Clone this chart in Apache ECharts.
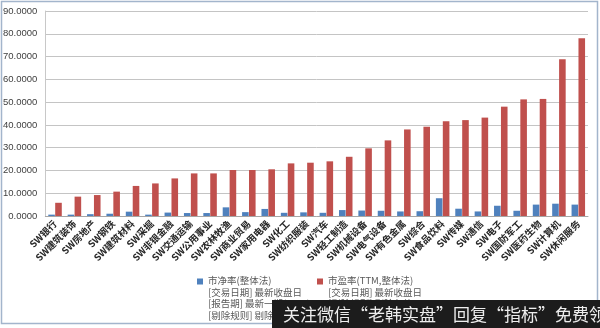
<!DOCTYPE html>
<html>
<head>
<meta charset="utf-8">
<script src="https://cdn.jsdelivr.net/npm/echarts@6/dist/echarts.min.js"></script>
<style>
html,body{margin:0;padding:0;background:#fff;}
#c{width:600px;height:328px;}
</style>
</head>
<body>
<div id="c"></div>
<script>
var categories = ["SW银行","SW建筑装饰","SW房地产","SW钢铁","SW建筑材料","SW采掘","SW非银金融","SW交通运输","SW公用事业","SW农林牧渔","SW商业贸易","SW家用电器","SW化工","SW纺织服装","SW汽车","SW轻工制造","SW机械设备","SW电气设备","SW有色金属","SW综合","SW食品饮料","SW传媒","SW通信","SW电子","SW国防军工","SW医药生物","SW计算机","SW休闲服务"];
var pbValues = [0.6,0.6,0.8,1.0,1.9,0.6,1.5,1.3,1.3,3.8,1.7,3.1,1.4,1.6,1.4,2.6,2.4,2.3,2.0,2.1,7.8,3.2,2.0,4.5,2.3,5.0,5.4,5.0];
var peValues = [5.8,8.5,9.2,10.7,13.2,14.3,16.5,18.7,18.7,20.2,20.2,20.5,23.1,23.4,24.0,26.0,29.7,33.2,38.0,39.2,41.6,42.1,43.2,48.0,51.2,51.4,68.8,78.0];
var seriesNames = ["市净率(整体法)","市盈率(TTM,整体法)"];
var legendNotes = [
  ["[交易日期] 最新收盘日","[报告期] 最新一期(MRQ)","[剔除规则] 剔除负值"],
  ["[交易日期] 最新收盘日","[剔除规则] 剔除负值"]
];
var yTicks = {min:0, max:90, interval:10};
var watermark = "关注微信“老韩实盘”回复“指标”免费领取";

var chart = echarts.init(document.getElementById('c'), null, {renderer:'canvas'});
var cjk = '"Noto Sans CJK SC", "DejaVu Sans", sans-serif';
function legendFmt(i){ return function(name){ return [name].concat(legendNotes[i]).join('\n'); }; }
var option = {
  animation:false,
  backgroundColor:'#ffffff',
  grid:{left:45,right:12,top:11,bottom:112,containLabel:false},
  xAxis:{
    type:'category',
    data:categories,
    axisLine:{show:true,lineStyle:{color:'#a6a6a6',width:1}},
    axisTick:{show:false},
    axisLabel:{interval:0,rotate:45,margin:6,fontSize:9.5,color:'#262626',fontFamily:cjk,fontWeight:'bold'}
  },
  yAxis:{
    type:'value',
    min:yTicks.min,max:yTicks.max,interval:yTicks.interval,
    axisLine:{show:true,lineStyle:{color:'#c8c8c8'}},
    axisTick:{show:false},
    axisLabel:{margin:8,fontSize:9.5,color:'#404040',fontFamily:'"Liberation Sans", Arial, sans-serif',
      formatter:function(v){return v.toFixed(4);}},
    splitLine:{show:true,lineStyle:{color:'#c4c4c4',width:1}}
  },
  legend:[
    {data:[seriesNames[0]],left:192,top:270,orient:'vertical',itemWidth:6,itemHeight:39,itemGap:0,
     icon:'path://M0,0H6V6H0Z M0,38.9H0.1V39H0Z',formatter:legendFmt(0),
     textStyle:{fontSize:9.5,lineHeight:11.5,color:'#595959',fontFamily:cjk}},
    {data:[seriesNames[1]],left:312,top:270,orient:'vertical',itemWidth:6,itemHeight:27.5,itemGap:0,
     icon:'path://M0,0H6V6H0Z M0,27.4H0.1V27.5H0Z',formatter:legendFmt(1),
     textStyle:{fontSize:9.5,lineHeight:11.5,color:'#595959',fontFamily:cjk}}
  ],
  series:[
    {name:seriesNames[0],type:'bar',data:pbValues,barWidth:'34%',barGap:'5%',
     itemStyle:{color:'#4F81BD'}},
    {name:seriesNames[1],type:'bar',data:peValues,barWidth:'34%',barGap:'5%',
     itemStyle:{color:'#C0504D'}}
  ],
  graphic:[
    {type:'rect',shape:{x:1.5,y:1.5,width:596,height:322},style:{fill:'none',stroke:'#a3b5cc',lineWidth:1.5},z:100},
    {type:'rect',shape:{x:272,y:300,width:328,height:28},style:{fill:'#1c1c1c'},z:101},
    {type:'text',x:283,y:315,style:{text:watermark,fill:'#eeeeee',font:'17px "Noto Sans CJK SC", sans-serif',verticalAlign:'middle'},z:102}
  ]
};
chart.setOption(option);
</script>
</body>
</html>
